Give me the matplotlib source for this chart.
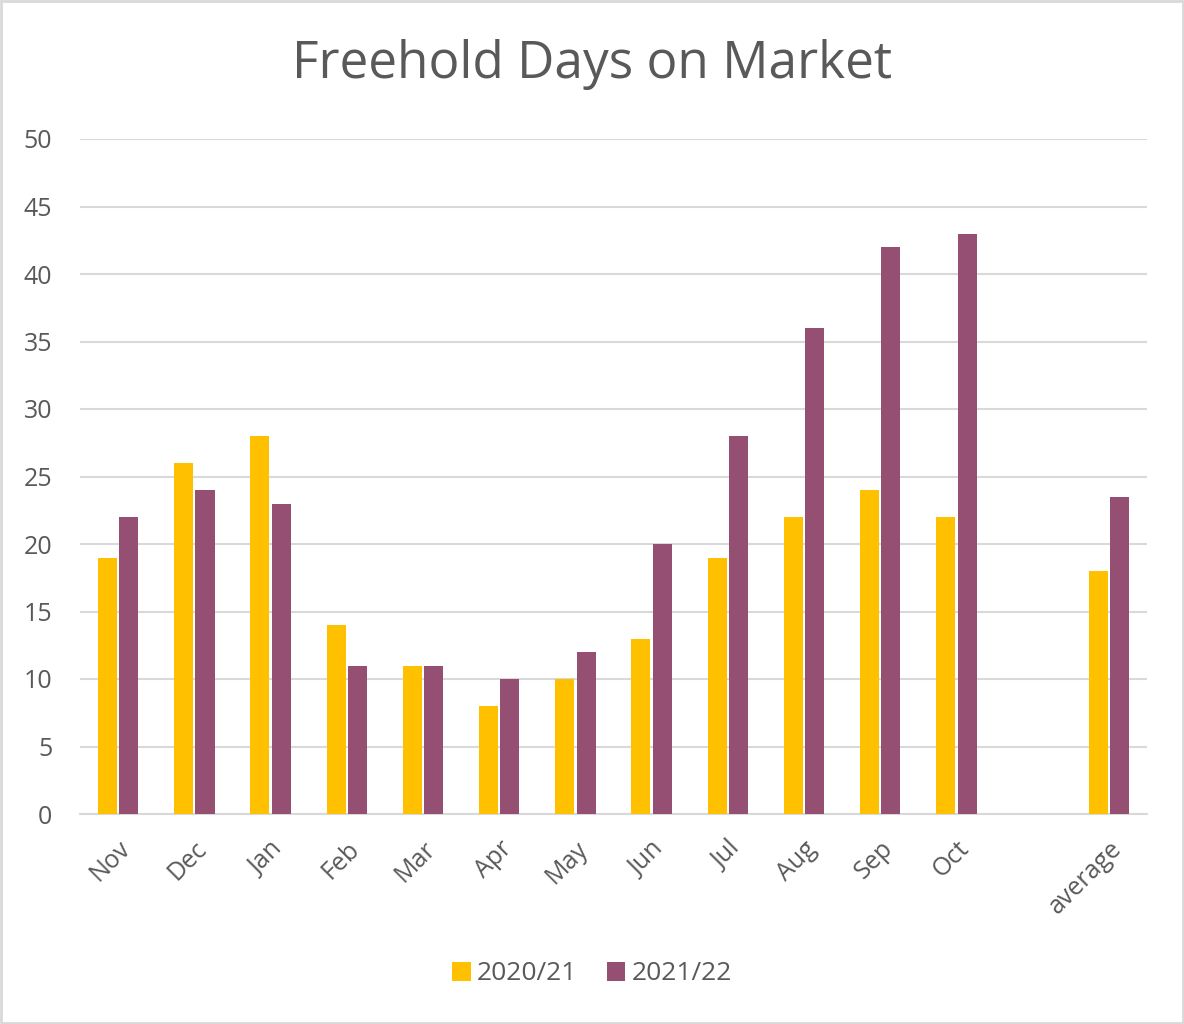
import numpy as np
import matplotlib.pyplot as plt
from matplotlib.patches import Rectangle

# Data
categories = ["Nov", "Dec", "Jan", "Feb", "Mar", "Apr", "May", "Jun",
              "Jul", "Aug", "Sep", "Oct", "", "average"]
days_2020_21 = [19, 26, 28, 14, 11, 8, 10, 13, 19, 22, 24, 22, np.nan, 18]
days_2021_22 = [22, 24, 23, 11, 11, 10, 12, 20, 28, 36, 42, 43, np.nan, 23.5]
series_labels = ["2020/21", "2021/22"]
y_ticks = [0, 5, 10, 15, 20, 25, 30, 35, 40, 45, 50]

COL_A = "#FFC000"
COL_B = "#954F72"
TEXT = "#595959"
GRID = "#D9D9D9"

plt.rcParams['font.family'] = ['Open Sans', 'DejaVu Sans']

fig = plt.figure(figsize=(11.84, 10.24), dpi=100)
ax = fig.add_axes([80 / 1184, 1 - 814 / 1024, 1067 / 1184, 675 / 1024])

x = np.arange(len(categories))
w = 0.25
ax.bar(x - 0.14, days_2020_21, width=w, color=COL_A, label=series_labels[0], zorder=3)
ax.bar(x + 0.14, days_2021_22, width=w, color=COL_B, label=series_labels[1], zorder=3)

ax.set_xlim(-0.5, len(categories) - 0.5)
ax.set_ylim(0, 50)
ax.set_yticks(y_ticks)
ax.yaxis.grid(True, color=GRID, linewidth=1.5, zorder=0)
ax.set_axisbelow(True)
for s in ["top", "right", "left"]:
    ax.spines[s].set_visible(False)
ax.spines["bottom"].set_color(GRID)
ax.spines["bottom"].set_linewidth(1.5)

ax.set_xticks(x)
ax.set_xticklabels(categories, rotation=45, ha="right", va="top",
                   rotation_mode="anchor", fontsize=18, color=TEXT)
ax.tick_params(axis="x", length=0, pad=16)
ax.tick_params(axis="y", length=0, pad=20, labelsize=18, labelcolor=TEXT)

fig.text(0.5, 1 - 65 / 1024, "Freehold Days on Market", ha="center", va="center",
         fontsize=37, color=TEXT)

leg = fig.legend(loc="center", bbox_to_anchor=(0.5, 1 - 974 / 1024), ncol=2,
                 frameon=False, fontsize=19, handlelength=0.7, handleheight=0.7,
                 handletextpad=0.25, columnspacing=1.1)
for t in leg.get_texts():
    t.set_color(TEXT)

# light frame around the whole chart
fig.patches.append(Rectangle((0.001, 0.001), 0.998, 0.998, transform=fig.transFigure,
                             fill=False, edgecolor=GRID, linewidth=2))

fig.savefig("out.png", dpi=100, facecolor="white")
